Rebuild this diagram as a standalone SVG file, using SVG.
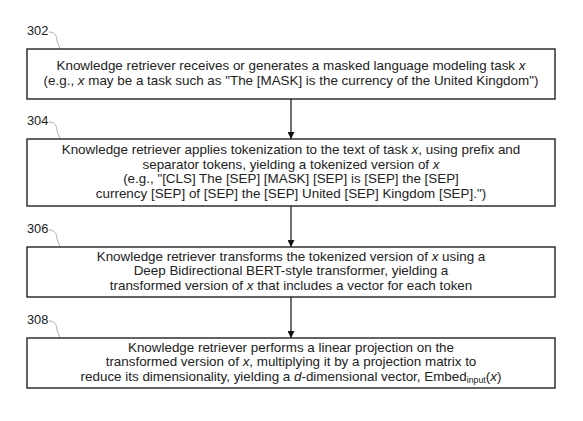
<svg xmlns="http://www.w3.org/2000/svg" width="583" height="421" viewBox="0 0 583 421">
<defs>
<style>
.box{fill:#fff;stroke:#222;stroke-width:1.4}
.t{font-family:"Liberation Sans",Arial,sans-serif;font-size:13.4px;fill:#222;text-anchor:middle}
.lbl{font-family:"Liberation Sans",Arial,sans-serif;font-size:12.8px;fill:#222}
.lead{fill:none;stroke:#999;stroke-width:0.8}
.conn{stroke:#111;stroke-width:1.2;fill:none}
.i{font-style:italic}
</style>
<marker id="ah" viewBox="0 0 10 10" refX="10" refY="5" markerWidth="9" markerHeight="7" markerUnits="userSpaceOnUse" orient="auto">
<path d="M0,0 L10,5 L0,10 z" fill="#111"/>
</marker>
</defs>
<rect width="583" height="421" fill="#fff"/>
<g id="connectors">
<line class="conn" x1="291" y1="99" x2="291" y2="139" marker-end="url(#ah)"/>
<line class="conn" x1="291" y1="206" x2="291" y2="247" marker-end="url(#ah)"/>
<line class="conn" x1="291" y1="297" x2="291" y2="338" marker-end="url(#ah)"/>
</g>
<g id="node302">
<text class="lbl" x="27" y="35">302</text>
<path class="lead" d="M49,32 C55,32 57,36 57,41 L60,49"/>
<rect class="box" x="27" y="49" width="528" height="50"/>
<text class="t" x="291" y="70.2">Knowledge retriever receives or generates a masked language modeling task <tspan class="i">x</tspan></text>
<text class="t" x="291" y="84.7">(e.g., <tspan class="i">x</tspan> may be a task such as "The [MASK] is the currency of the United Kingdom")</text>
</g>
<g id="node304">
<text class="lbl" x="27" y="125">304</text>
<path class="lead" d="M49,122 C55,122 57,126 57,131 L60,139"/>
<rect class="box" x="27" y="139" width="528" height="67"/>
<text class="t" x="291" y="154.2">Knowledge retriever applies tokenization to the text of task <tspan class="i">x</tspan>, using prefix and</text>
<text class="t" x="291" y="168.7">separator tokens, yielding a tokenized version of <tspan class="i">x</tspan></text>
<text class="t" x="291" y="183.2">(e.g., "[CLS] The [SEP] [MASK] [SEP] is [SEP] the [SEP]</text>
<text class="t" x="291" y="197.7">currency [SEP] of [SEP] the [SEP] United [SEP] Kingdom [SEP].")</text>
</g>
<g id="node306">
<text class="lbl" x="27" y="233">306</text>
<path class="lead" d="M49,230 C55,230 57,234 57,239 L60,247"/>
<rect class="box" x="27" y="247" width="528" height="50"/>
<text class="t" x="291" y="260.9">Knowledge retriever transforms the tokenized version of <tspan class="i">x</tspan> using a</text>
<text class="t" x="291" y="275.4">Deep Bidirectional BERT-style transformer, yielding a</text>
<text class="t" x="291" y="289.9">transformed version of <tspan class="i">x</tspan> that includes a vector for each token</text>
</g>
<g id="node308">
<text class="lbl" x="27" y="324">308</text>
<path class="lead" d="M49,321 C55,321 57,325 57,330 L60,338"/>
<rect class="box" x="27" y="338" width="528" height="50"/>
<text class="t" x="291" y="351.9">Knowledge retriever performs a linear projection on the</text>
<text class="t" x="291" y="366.4">transformed version of <tspan class="i">x</tspan>, multiplying it by a projection matrix to</text>
<text class="t" x="291" y="380.9">reduce its dimensionality, yielding a <tspan class="i">d</tspan>-dimensional vector, Embed<tspan font-size="8.8px" dy="2.5">input</tspan><tspan dy="-2.5">(</tspan><tspan class="i">x</tspan>)</text>
</g>
</svg>
